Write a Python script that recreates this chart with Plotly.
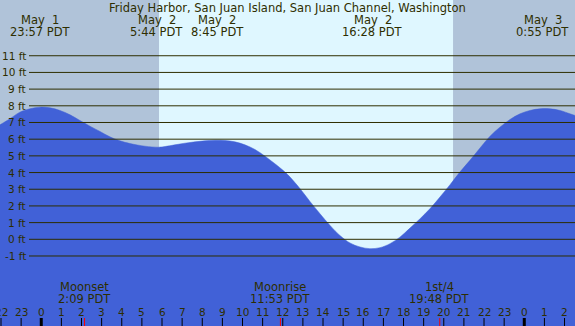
import plotly.graph_objects as go

# ---- data (hours relative to May 2 00:00 PDT) ----
tide_hours = [-2.05, -1.56, -1.06, -0.56, -0.06, 0.43, 0.93, 1.43, 1.92, 2.42, 2.92, 3.41,
              3.91, 4.41, 5.15, 5.85, 6.15, 6.64, 7.14, 7.64, 8.13, 8.63, 9.13, 9.62,
              10.12, 10.62, 11.12, 11.61, 12.11, 12.36, 12.86, 13.35, 13.85, 14.35, 14.84,
              15.34, 15.84, 16.33, 16.83, 17.33, 17.82, 18.32, 18.82, 19.31, 19.81, 20.31,
              20.80, 21.30, 21.80, 22.30, 22.79, 23.29, 23.79, 24.28, 24.78, 25.28, 25.78,
              26.27, 26.52]
tide_feet = [6.86, 7.22, 7.62, 7.82, 7.92, 7.88, 7.72, 7.46, 7.12, 6.78, 6.46, 6.14,
             5.90, 5.74, 5.58, 5.52, 5.56, 5.66, 5.76, 5.84, 5.90, 5.94, 5.92, 5.84,
             5.66, 5.38, 4.98, 4.53, 4.03, 3.73, 3.03, 2.27, 1.53, 0.83, 0.23,
             -0.22, -0.46, -0.56, -0.50, -0.26, 0.13, 0.67, 1.23, 1.83, 2.53, 3.27,
             4.03, 4.73, 5.47, 6.18, 6.72, 7.18, 7.52, 7.72, 7.82, 7.82, 7.72,
             7.52, 7.42]

title_text = "Friday Harbor, San Juan Island, San Juan Channel, Washington"

event_hours = [-0.05, 5.733, 8.75, 16.467, 24.917]
event_dates = ["May\u00a0 1", "May\u00a0 2", "May\u00a0 2", "May\u00a0 2", "May\u00a0 3"]
event_times = ["23:57 PDT", "5:44 PDT", "8:45 PDT", "16:28 PDT", "0:55 PDT"]

moon_hours = [2.15, 11.883, 19.8, 26.817]
moon_names = ["Moonset", "Moonrise", "1st/4", "Moonset"]
moon_times = ["2:09 PDT", "11:53 PDT", "19:48 PDT", "2:49 PDT"]

sunrise_hour = 5.85
sunset_hour = 20.46

hour_ticks = list(range(-2, 27))
hour_labels = ["22", "23", "0", "1", "2", "3", "4", "5", "6", "7", "8", "9", "10", "11",
               "12", "13", "14", "15", "16", "17", "18", "19", "20", "21", "22", "23",
               "0", "1", "2"]

feet_levels = list(range(-1, 12))
feet_labels = [f"{v} ft" for v in feet_levels]

# ---- styling ----
W, H = 575, 326
X0, X1 = -2.05, 26.52
Y0, Y1 = -5.195, 14.34
DAY = "#DFF7FF"
NIGHT = "#B0C3D9"
WATER = "#4161D7"
INK = "#2E2E00"
FONT = "DejaVu Sans"
FS = 11.5
FS_SMALL = 10.5

fig = go.Figure()
fig.add_trace(go.Scatter(x=tide_hours, y=[Y0 - 1] * len(tide_hours), mode="lines",
                         line=dict(width=0, color=WATER), hoverinfo="skip", showlegend=False))
fig.add_trace(go.Scatter(x=tide_hours, y=tide_feet, mode="lines", line_shape="spline",
                         line=dict(width=0.5, color=WATER), fill="tonexty", fillcolor=WATER,
                         hoverinfo="skip", showlegend=False))

shapes = []
# night shading
shapes.append(dict(type="rect", xref="x", yref="paper", x0=X0 - 1, x1=sunrise_hour, y0=0, y1=1,
                   fillcolor=NIGHT, line=dict(width=0), layer="below"))
shapes.append(dict(type="rect", xref="x", yref="paper", x0=sunset_hour, x1=X1 + 1, y0=0, y1=1,
                   fillcolor=NIGHT, line=dict(width=0), layer="below"))
# horizontal level lines
for v in feet_levels:
    shapes.append(dict(type="line", xref="paper", yref="y", x0=29 / W, x1=1, y0=v, y1=v,
                       line=dict(color=INK, width=1), layer="above"))
# hour ticks
for h, lab in zip(hour_ticks, hour_labels):
    w = 3 if lab == "0" else 1
    shapes.append(dict(type="line", xref="x", yref="paper", x0=h, x1=h, y0=0, y1=8 / H,
                       line=dict(color="#000000", width=w), layer="above"))
# moon event ticks
for h in moon_hours:
    shapes.append(dict(type="line", xref="x", yref="paper", x0=h, x1=h, y0=0, y1=8 / H,
                       line=dict(color="#FF0000", width=1), layer="above"))

ann = []
def txt(x, ypx, s, xref="x", xanchor="center", size=FS):
    ann.append(dict(x=x, y=1 - ypx / H, xref=xref, yref="paper", text=s, showarrow=False,
                    xanchor=xanchor, yanchor="middle", borderpad=0,
                    font=dict(family=FONT, size=size, color=INK)))

txt(0.5, 8, title_text, xref="paper")
for h, d, t in zip(event_hours, event_dates, event_times):
    txt(h, 20, d)
    txt(h, 32, t)
for h, n, t in zip(moon_hours, moon_names, moon_times):
    txt(h, 287, n)
    txt(h, 299, t)
for h, lab in zip(hour_ticks, hour_labels):
    txt(h, 312, lab, size=FS_SMALL)
for v, lab in zip(feet_levels, feet_labels):
    ann.append(dict(x=27 / W, y=v, xref="paper", yref="y", text=lab, showarrow=False,
                    xanchor="right", yanchor="middle", borderpad=0,
                    font=dict(family=FONT, size=FS_SMALL, color=INK)))

fig.update_layout(
    width=W, height=H, margin=dict(l=0, r=0, t=0, b=0),
    paper_bgcolor=DAY, plot_bgcolor=DAY,
    xaxis=dict(range=[X0, X1], visible=False, fixedrange=True),
    yaxis=dict(range=[Y0, Y1], visible=False, fixedrange=True),
    shapes=shapes, annotations=ann, showlegend=False,
)
fig.write_html("out.html", config={"displayModeBar": False},
               post_script="document.body.style.margin='0';document.body.style.overflow='hidden';")
